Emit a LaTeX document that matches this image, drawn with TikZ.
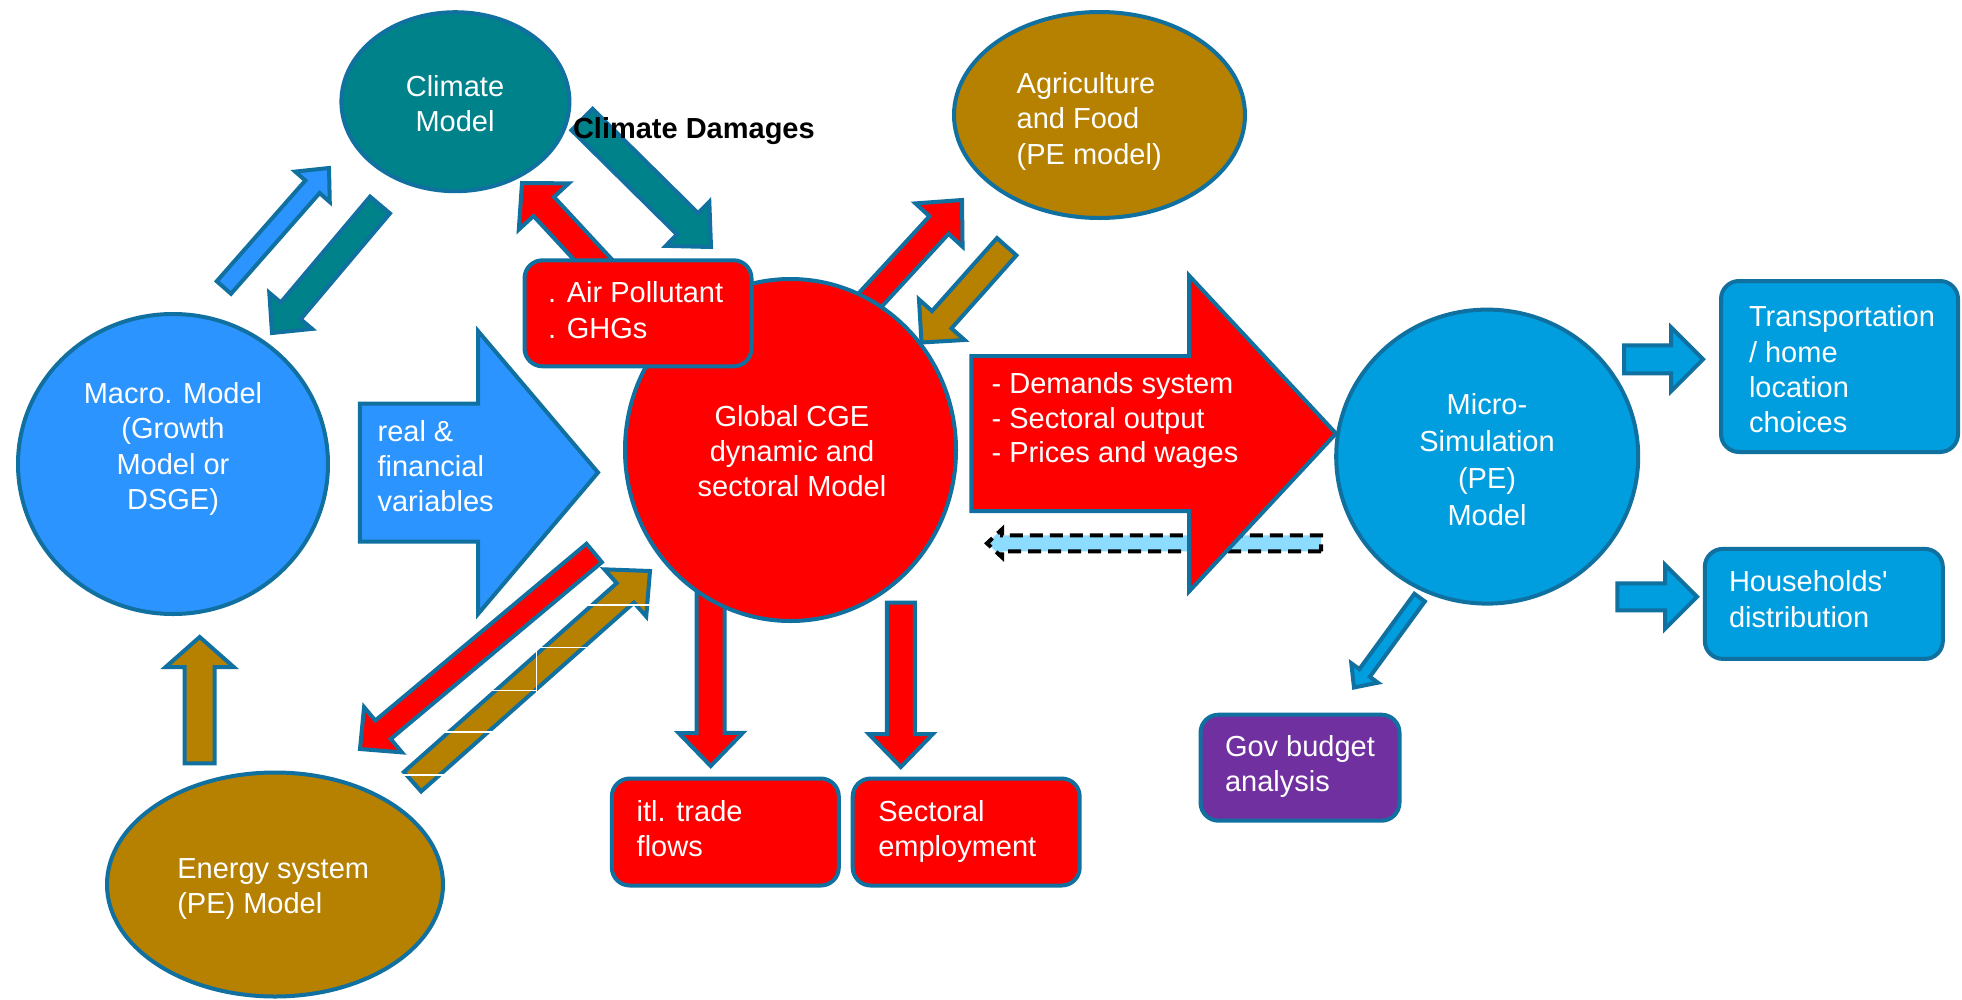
\documentclass[tikz,border=0pt]{standalone}
\usepackage{fontspec}
\setmainfont{Liberation Sans}
\usetikzlibrary{calc,shapes.geometric}
\definecolor{bord}{RGB}{16,112,160}
\definecolor{tealc}{RGB}{0,130,138}
\definecolor{redc}{RGB}{255,0,0}
\definecolor{brownc}{RGB}{182,128,0}
\definecolor{macroblue}{RGB}{44,148,255}
\definecolor{microblue}{RGB}{0,158,222}
\definecolor{purplec}{RGB}{112,48,160}
\definecolor{lightb}{RGB}{140,220,255}
\tikzset{
 arr/.style={draw=bord, line width=4pt, line join=miter, miter limit=8},
 shp/.style={draw=bord, line width=4pt, inner sep=0pt, outer sep=0pt},
 ell/.style={shp, ellipse},
 rbox/.style={shp, rectangle, rounded corners=18pt},
 txt/.style={text=white, font=\fontsize{29}{35.2}\selectfont, inner sep=0pt, outer sep=0pt},
 txtl/.style={txt, align=left, anchor=base west},
 txtc/.style={txt, align=center, anchor=base},
 wline/.style={draw=white, line width=1.3pt},
}
% #1 style, #2 name, #3 start, #4 tip, #5 shaft half width, #6 head half width, #7 head length
\newcommand{\blockarr}[7]{%
 \coordinate (#2-s) at #3;
 \coordinate (#2-t) at #4;
 \coordinate (#2-h) at ($(#2-t)!#7pt!(#2-s)$);
 \draw[#1] ($(#2-s)!#5pt!90:(#2-t)$) -- ($(#2-h)!#5pt!90:(#2-t)$) -- ($(#2-h)!#6pt!90:(#2-t)$) -- (#2-t)
   -- ($(#2-h)!#6pt!-90:(#2-t)$) -- ($(#2-h)!#5pt!-90:(#2-t)$) -- ($(#2-s)!#5pt!-90:(#2-t)$) -- cycle;
}
\begin{document}
\begin{tikzpicture}[x=1pt,y=-1pt]
\useasboundingbox[fill=white] (0,0) rectangle (1962,999);
% (text nodes are placed at the baseline of their last line)

% Climate <-> emissions box
\blockarr{arr, fill=tealc}{dmg}{(582,119.5)}{(711,247)}{15}{31}{33}
\blockarr{arr, fill=redc}{emi}{(623,292)}{(522,183)}{14}{34}{32}

% Climate model
\node[ell, fill=tealc, minimum width=228pt, minimum height=179pt] (climate) at (455.4,101.7) {};
\node[txtc] (climate-t) at (455,131.7) {Climate\\Model};

% Climate <-> Macro
\blockarr{arr, fill=tealc}{cm}{(380,205)}{(272,333)}{13}{28}{29}
\blockarr{arr, fill=macroblue}{mc}{(223.9,287.5)}{(329,168)}{9.5}{23}{25}
\blockarr{arr, fill=brownc}{em}{(199.7,763.3)}{(199.7,637)}{15}{34}{30}

% Macro model
\node[ell, fill=macroblue, minimum width=310pt, minimum height=300pt] (macro) at (173,464) {};
\node[txtc] (macro-t) at (173,509.3) {Macro. Model\\(Growth\\Model or\\DSGE)};

% real & financial variables
\blockarr{arr, fill=macroblue}{rf}{(359.8,472.5)}{(598,472.5)}{69}{141.5}{120}
\node[txtl] (rf-t) at (377.6,511.7) {real \&\\financial\\variables};

% CGE <-> Energy
\blockarr{arr, fill=redc}{ce}{(594.2,553)}{(360,749)}{12}{29.5}{30}
\blockarr{arr, fill=brownc}{ec}{(412.5,781.7)}{(650,571)}{13}{31.5}{33}
\draw[wline] (588,605) -- (650,605);
\draw[wline] (536.7,647.7) -- (586.7,647.7);
\draw[wline] (536.7,647.7) -- (536.7,693.3);
\draw[wline] (488,690.7) -- (536.7,690.7);
\draw[wline] (443,732) -- (495,732);
\draw[wline] (403,775) -- (446.7,775);

% Energy model
\node[ell, fill=brownc, minimum width=336pt, minimum height=224pt] (energy) at (275,884.5) {};
\node[txtl] (energy-t) at (177.3,913.3) {Energy system\\(PE) Model};

% CGE <-> Agriculture, CGE -> outputs
\blockarr{arr, fill=redc}{ca}{(860,311)}{(962,200)}{13}{32}{34}
\blockarr{arr, fill=brownc}{ac}{(1006.7,246.7)}{(921.5,342.5)}{13}{30.5}{30.5}
\blockarr{arr, fill=redc}{ct}{(710.5,590)}{(710.7,766)}{14}{32}{33}
\blockarr{arr, fill=redc}{cs}{(900.8,602.7)}{(900.8,767)}{14}{32}{33}

% CGE model
\node[ell, fill=redc, minimum width=331pt, minimum height=342pt] (cge) at (790.5,450) {};
\node[txtc] (cge-t) at (792,496.7) {Global CGE\\dynamic and\\sectoral Model};

% Emissions box
\node[rbox, fill=redc, minimum width=227pt, minimum height=106pt] (air) at (638,313.3) {};
\node[txtl] (air-t) at (548,338) {. Air Pollutant\\. GHGs};

% Agriculture
\node[ell, fill=brownc, minimum width=291pt, minimum height=206pt] (agri) at (1099.5,115) {};
\node[txtl] (agri-t) at (1016.7,164) {Agriculture\\and Food\\(PE model)};

% feedback (dashed) and main red arrow
\blockarr{arr, draw=black, fill=lightb, dash pattern=on 13pt off 7pt}{fb}{(1321,543.3)}{(987,543.3)}{8}{14}{15}
\blockarr{arr, fill=redc}{cm2}{(971.3,433.5)}{(1336,433.5)}{77.5}{158}{147}
\node[txtl, font=\fontsize{29}{34.7}\selectfont] (dem-t) at (991.7,462.7) {- Demands system\\- Sectoral output\\- Prices and wages};

% Micro-simulation
\node[ell, fill=microblue, minimum width=302pt, minimum height=294pt] (micro) at (1487.2,456.6) {};
\node[txtc, font=\fontsize{29}{37}\selectfont] (micro-t) at (1487,525) {Micro-\\Simulation\\(PE)\\Model};

\blockarr{arr, fill=microblue}{mt}{(1624.2,359.3)}{(1703,359.3)}{14}{32}{32}
\blockarr{arr, fill=microblue}{mh}{(1617.4,596.8)}{(1697,596.8)}{13.5}{32}{32}
\blockarr{arr, fill=microblue}{mg}{(1419.6,597.6)}{(1354,687.5)}{6.5}{16.5}{18}

\node[rbox, fill=microblue, minimum width=237pt, minimum height=171pt] (trans) at (1839.5,366.5) {};
\node[txtl] (trans-t) at (1749,432.5) {Transportation\\/ home\\location\\choices};
\node[rbox, fill=microblue, minimum width=238pt, minimum height=110pt] (house) at (1823.8,603.9) {};
\node[txtl] (house-t) at (1729,627) {Households\textquotesingle\\distribution};
\node[rbox, fill=purplec, minimum width=199pt, minimum height=106pt] (gov) at (1300,767.7) {};
\node[txtl] (gov-t) at (1225,791.7) {Gov budget\\analysis};

% output boxes
\node[rbox, fill=redc, minimum width=227pt, minimum height=107pt] (trade) at (725.3,832) {};
\node[txtl] (trade-t) at (636.7,856.7) {itl. trade\\flows};
\node[rbox, fill=redc, minimum width=227pt, minimum height=107pt] (sect) at (966.2,832) {};
\node[txtl] (sect-t) at (878.3,856.7) {Sectoral\\employment};

% label
\node[txt, text=black, font=\fontsize{29}{35.2}\selectfont\bfseries, anchor=base west] (dmg-t) at (573,138.3) {Climate Damages};
\end{tikzpicture}
\end{document}
